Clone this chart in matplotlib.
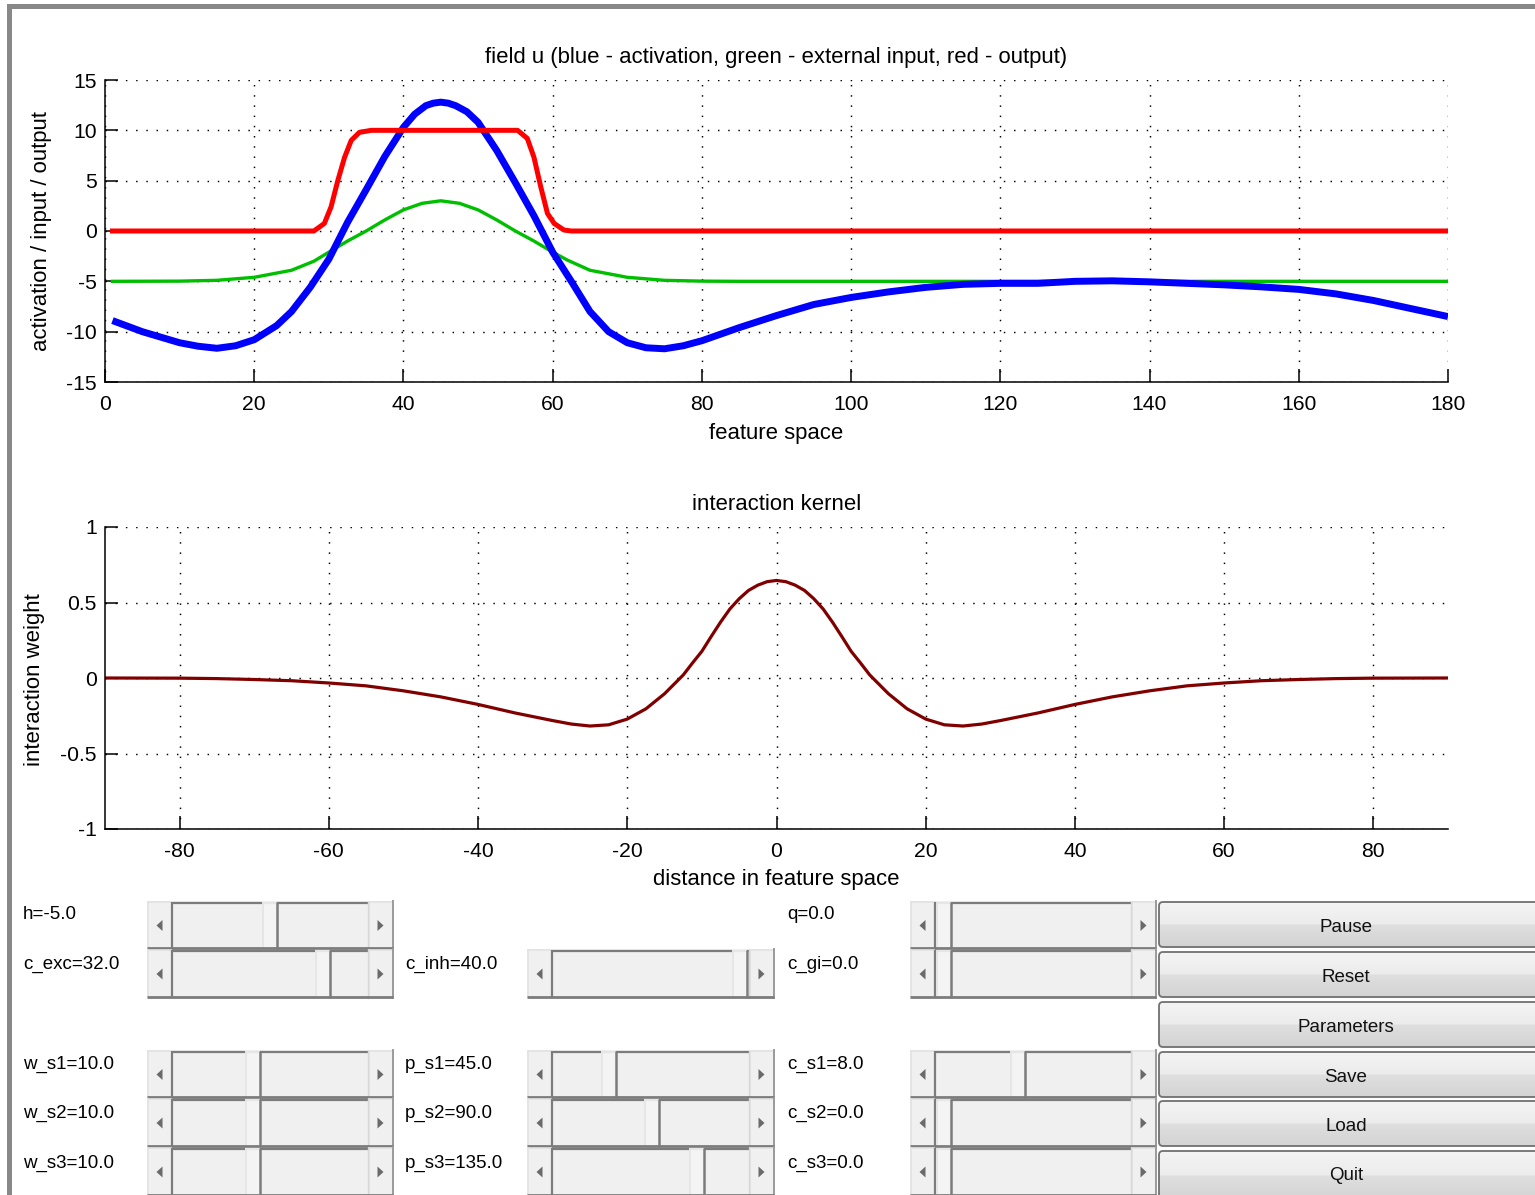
import matplotlib
matplotlib.use('Agg')
import matplotlib.pyplot as plt
from matplotlib.patches import Rectangle, Polygon, FancyBboxPatch
import numpy as np

plt.rcParams['font.family'] = ['Liberation Sans', 'DejaVu Sans']
plt.rcParams['axes.unicode_minus'] = False

# ---------------- data ----------------
act_x = [1, 5, 10, 12.5, 15, 17.5, 20, 23, 25, 27.5, 30, 32.5, 35, 37.5, 40, 41.5, 43,
         44, 45, 46, 47, 48.5, 50, 52.5, 55, 57.5, 60, 62.5, 65, 67.5, 70, 72.5, 75,
         77.5, 80, 85, 90, 95, 100, 105, 110, 115, 120, 125, 130, 135, 140, 145, 150,
         155, 160, 165, 170, 175, 180]
act_y = [-8.9, -10.0, -11.1, -11.45, -11.65, -11.4, -10.8, -9.4, -8.0, -5.6, -2.8, 0.85,
         4.1, 7.4, 10.3, 11.6, 12.45, 12.7, 12.8, 12.7, 12.45, 11.85, 10.8, 8.0, 4.8, 1.5,
         -2.1, -5.0, -8.0, -10.0, -11.1, -11.6, -11.7, -11.4, -10.9, -9.6, -8.4, -7.3,
         -6.6, -6.05, -5.6, -5.3, -5.2, -5.2, -5.0, -4.95, -5.05, -5.2, -5.35, -5.55,
         -5.8, -6.25, -6.9, -7.7, -8.5]

inp_x = [1, 10, 15, 20, 25, 28, 30, 32.5, 35, 37.5, 40, 42.5, 45, 47.5, 50, 52.5, 55,
         57.5, 60, 62, 65, 70, 75, 80, 85, 180]
inp_y = [-5.0, -4.98, -4.9, -4.6, -3.9, -3.0, -2.1, -1.0, 0.0, 1.1, 2.1, 2.75, 3.0, 2.75,
         2.1, 1.1, 0.0, -1.0, -2.1, -2.9, -3.9, -4.6, -4.9, -4.98, -5.0, -5.0]

out_x = [1, 28, 29.4, 30.3, 31.2, 32.1, 33.0, 34.1, 35.7, 55.3, 56.6, 57.5, 58.4, 59.3,
         60.2, 61.5, 62.5, 180]
out_y = [0, 0, 0.75, 2.4, 5.0, 7.3, 9.0, 9.8, 10.0, 10.0, 9.2, 7.3, 4.4, 1.75, 0.75, 0.1,
         0, 0]

ker_x = [-90, -80, -75, -70, -65, -60, -55, -50, -45, -40, -35, -30, -27.5, -25, -22.5,
         -20, -17.5, -15, -12.5, -11.25, -10, -8.75, -7.5, -6.25, -5, -3.75, -2.5,
         -1.25, 0, 1.25, 2.5, 3.75, 5, 6.25, 7.5, 8.75, 10, 11.25, 12.5, 15, 17.5,
         20, 22.5, 25, 27.5, 30, 35, 40, 45, 50, 55, 60, 65, 70, 75, 80, 90]
ker_y = [0.0, -0.001, -0.004, -0.01, -0.018, -0.033, -0.052, -0.085, -0.125, -0.175,
         -0.232, -0.282, -0.305, -0.318, -0.31, -0.272, -0.204, -0.104, 0.02, 0.10,
         0.177, 0.275, 0.37, 0.457, 0.525, 0.58, 0.615, 0.638, 0.646, 0.638, 0.615,
         0.58, 0.525, 0.457, 0.37, 0.275, 0.177, 0.10, 0.02, -0.104, -0.204, -0.272,
         -0.31, -0.318, -0.305, -0.282, -0.232, -0.175, -0.125, -0.085, -0.052,
         -0.033, -0.018, -0.01, -0.004, -0.001, 0.0]

field_xticks = [0, 20, 40, 60, 80, 100, 120, 140, 160, 180]
field_yticks = [-15, -10, -5, 0, 5, 10, 15]
kern_xticks = [-80, -60, -40, -20, 0, 20, 40, 60, 80]
kern_yticks = [-1, -0.5, 0, 0.5, 1]
kern_yticklabels = ['-1', '-0.5', '0', '0.5', '1']

slider_labels = ['h=-5.0', 'c_exc=32.0', 'c_inh=40.0', 'q=0.0', 'c_gi=0.0',
                 'w_s1=10.0', 'w_s2=10.0', 'w_s3=10.0',
                 'p_s1=45.0', 'p_s2=90.0', 'p_s3=135.0',
                 'c_s1=8.0', 'c_s2=0.0', 'c_s3=0.0']
button_labels = ['Pause', 'Reset', 'Parameters', 'Save', 'Load', 'Quit']

# ---------------- figure ----------------
W, H = 1535, 1195
FS = 13.5      # GUI text
FT = 15.2      # tick labels
FL = 15.9      # titles / axis labels
fig = plt.figure(figsize=(W / 100, H / 100), dpi=100)
fig.patch.set_facecolor('white')
bg = fig.add_axes([0, 0, 1, 1], zorder=0)
bg.set_autoscale_on(False)
bg.set_xlim(0, W)
bg.set_ylim(H, 0)
bg.axis('off')

# window frame
bg.add_patch(Rectangle((7, 4), W, 5, color='#888888', lw=0))
bg.add_patch(Rectangle((7, 4), 5, H, color='#888888', lw=0))


def ax_rect(l, t, r, b):
    return [l / W, 1 - b / H, (r - l) / W, (b - t) / H]


def style(ax):
    for s in ('top', 'right'):
        ax.spines[s].set_visible(False)
    for s in ('left', 'bottom'):
        ax.spines[s].set_linewidth(1.1)
        ax.spines[s].set_color('black')
    ax.tick_params(direction='in', length=9.5, width=1.1, labelsize=FT, colors='black')
    ax.tick_params(axis='x', pad=9.5)
    ax.tick_params(axis='y', pad=6)
    ax.grid(True, color='black', linestyle=(0, (1, 6)), linewidth=1.05)
    ax.set_axisbelow(True)


ax1 = fig.add_axes(ax_rect(105, 80, 1448, 382), zorder=1)
style(ax1)
ax1.plot(inp_x, inp_y, color=(0, 0.75, 0), lw=2.4, solid_joinstyle='round')
ax1.plot(act_x, act_y, color=(0, 0, 1), lw=5.0, solid_joinstyle='round',
         solid_capstyle='butt')
ax1.plot(out_x, out_y, color=(1, 0, 0), lw=3.6, solid_joinstyle='round')
ax1.set_xlim(0, 180)
ax1.set_ylim(-15, 15)
ax1.set_xticks(field_xticks)
ax1.set_yticks(field_yticks)
ax1.set_title('field u (blue - activation, green - external input, red - output)',
              fontsize=FL, y=(382 - 58) / 302, va='center', pad=0)
ax1.set_xlabel('feature space', fontsize=FL, va='center')
ax1.xaxis.set_label_coords(0.5, (382 - 433) / 302)
ax1.set_ylabel('activation / input / output', fontsize=FL, va='center')
ax1.yaxis.set_label_coords((42 - 105) / 1343, 0.5)

ax2 = fig.add_axes(ax_rect(105, 527, 1448, 829), zorder=1)
style(ax2)
ax2.plot(ker_x, ker_y, color=(0.5, 0, 0), lw=2.3, solid_joinstyle='round')
ax2.set_xlim(-90, 90)
ax2.set_ylim(-1, 1)
ax2.set_xticks(kern_xticks)
ax2.set_yticks(kern_yticks)
ax2.set_yticklabels(kern_yticklabels)
ax2.set_title('interaction kernel', fontsize=FL, y=(829 - 504) / 302, va='center',
              pad=0)
ax2.set_xlabel('distance in feature space', fontsize=FL, va='center')
ax2.xaxis.set_label_coords(0.5, (829 - 880) / 302)
ax2.set_ylabel('interaction weight', fontsize=FL, va='center')
ax2.yaxis.set_label_coords((35 - 105) / 1343, (829 - 680) / 302)

# ---------------- GUI controls ----------------
DARK = '#7c7c7c'
FILL = '#f0f0f0'
ARROW = '#6a6a6a'


def slider(x0, x1, y0, y1, t0, tw=15, aw=25):
    h = y1 - y0
    bg.add_patch(Rectangle((x0, y0), x1 - x0, h, facecolor=FILL, edgecolor='none'))
    for bx in (x0, x1 - aw):
        bg.plot([bx + 1, bx + aw - 1], [y0 + 1, y0 + 1], color='#e2e2e2', lw=1.2)
        bg.plot([bx + 1, bx + 1], [y0 + 1, y1 - 2], color='#e2e2e2', lw=1.2)
    tl, tr = x0 + aw, x1 - aw
    bg.plot([tl, t0], [y0 + 1.5, y0 + 1.5], color=DARK, lw=1.6, solid_capstyle='butt')
    bg.plot([t0 + tw, tr], [y0 + 1.5, y0 + 1.5], color=DARK, lw=1.6,
            solid_capstyle='butt')
    bg.plot([t0, t0 + tw], [y0 + 1.5, y0 + 1.5], color='#e6e6e6', lw=1.6,
            solid_capstyle='butt')
    bg.plot([tl, tl], [y0 + 1, y1], color=DARK, lw=1.6, solid_capstyle='butt')
    bg.add_patch(Rectangle((t0, y0 + 2.5), tw, h - 4, facecolor='#f4f4f4',
                           edgecolor='none'))
    bg.plot([t0 + 1, t0 + 1], [y0 + 2.5, y1 - 2], color='#e4e4e4', lw=1.2)
    bg.plot([t0 + tw, t0 + tw], [y0 + 1, y1], color=DARK, lw=1.8,
            solid_capstyle='butt')
    bg.plot([x1 - 0.5, x1 - 0.5], [y0, y1], color='#9a9a9a', lw=1.4)
    bg.plot([tr, tr], [y0 + 1, y1], color='#d8d8d8', lw=1.0)
    bg.plot([x0, x1], [y1 - 1, y1 - 1], color=DARK, lw=2.0, solid_capstyle='butt')
    cy = (y0 + y1) / 2 + 0.5
    lx = x0 + aw / 2
    rx = x1 - aw / 2
    bg.add_patch(Polygon([[lx - 3, cy], [lx + 3, cy - 5.5], [lx + 3, cy + 5.5]],
                         closed=True, color=ARROW, lw=0))
    bg.add_patch(Polygon([[rx + 3, cy], [rx - 3, cy - 5.5], [rx - 3, cy + 5.5]],
                         closed=True, color=ARROW, lw=0))


rows = [(901, 949), (949, 998), (1050, 1098), (1098, 1147), (1147, 1196)]
cols = [(147, 393), (527, 774), (910, 1156)]

slider_layout = [  # (col, row, thumb_left)
    (0, 0, 262), (0, 1, 315), (1, 1, 732), (2, 0, 936), (2, 1, 936),
    (0, 2, 245), (0, 3, 245), (0, 4, 245),
    (1, 2, 601), (1, 3, 644), (1, 4, 689),
    (2, 2, 1010), (2, 3, 936), (2, 4, 936),
]
label_pos = [(23, 914), (23, 964), (405, 964), (787, 914), (787, 964),
             (23, 1064), (23, 1113), (23, 1163),
             (405, 1064), (405, 1113), (405, 1163),
             (787, 1064), (787, 1113), (787, 1163)]

for (c, r, t0), lab, (lx, ly) in zip(slider_layout, slider_labels, label_pos):
    x0, x1 = cols[c]
    y0, y1 = rows[r]
    slider(x0, x1, y0, y1, t0)
    bg.text(lx, ly, lab, fontsize=FS, ha='left', va='center', color='black')

btn_rows = [(902, 947), (952, 997), (1002, 1047), (1052, 1097), (1101, 1146),
            (1151, 1200)]
top_c = np.array([0.955, 0.955, 0.955])
mid_c = np.array([0.925, 0.925, 0.925])
mid2_c = np.array([0.875, 0.875, 0.875])
bot_c = np.array([0.83, 0.83, 0.83])
n = 60
grad = np.zeros((n, 1, 3))
for i in range(n):
    f = i / (n - 1)
    if f < 0.5:
        g = top_c + (mid_c - top_c) * (f / 0.5)
    else:
        g = mid2_c + (bot_c - mid2_c) * ((f - 0.5) / 0.5)
    grad[i, 0, :] = g

for lab, (y0, y1) in zip(button_labels, btn_rows):
    x0, x1 = 1159, 1560
    p = FancyBboxPatch((x0, y0), x1 - x0, y1 - y0,
                       boxstyle='round,pad=0,rounding_size=4',
                       facecolor='none', edgecolor='#707070', lw=1.3, zorder=3)
    bg.add_patch(p)
    im = bg.imshow(grad, extent=(x0, x1, y1, y0), aspect='auto',
                   interpolation='bilinear', zorder=2)
    im.set_clip_path(p)
    yc = 1176 if lab == 'Quit' else (y0 + y1) / 2 + 3
    bg.text(1346, yc, lab, fontsize=FS, ha='center', va='center', color='#111111',
            zorder=4)

bg.set_xlim(0, W)
bg.set_ylim(H, 0)

fig.savefig('out.png', dpi=100, facecolor='white')
